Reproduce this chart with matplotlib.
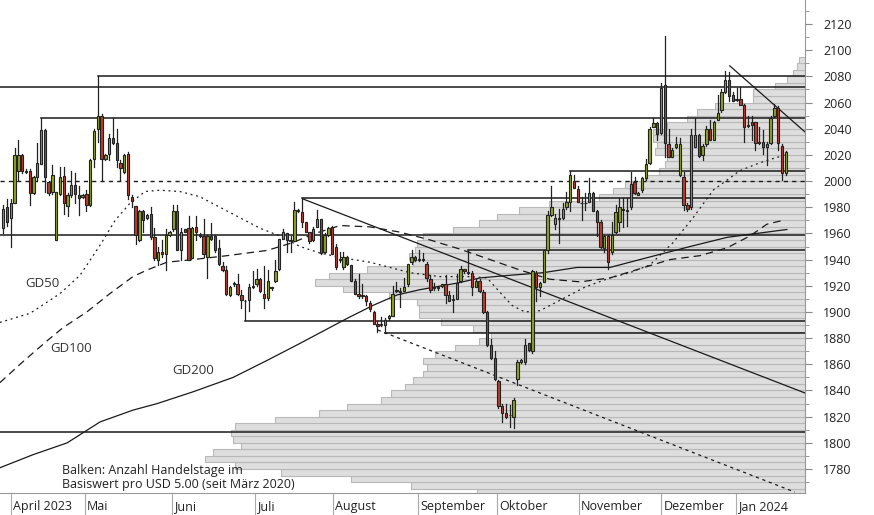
import numpy as np
import matplotlib
matplotlib.use("Agg")
import matplotlib.pyplot as plt
from matplotlib.patches import Rectangle
from matplotlib.ticker import MultipleLocator

plt.rcParams['font.family'] = ['Open Sans', 'DejaVu Sans']

# daily candles: open, close, high, low (USD)
opens = [1964, 1980, 1972, 1983, 2008, 2020, 2008, 2008, 1991, 2003, 2013, 2039, 1999, 1992, 1955, 1990, 2004, 1981, 1989, 1997,
         1989, 1988, 1990, 1982, 2017, 2040, 2050, 2017, 2021, 2033, 2029, 2014, 2007, 2021, 1988, 1981, 1955, 1977, 1972, 1975,
         1957, 1940, 1946, 1944, 1959, 1963, 1977, 1947, 1963, 1964, 1941, 1965, 1959, 1958, 1942, 1958, 1958, 1949, 1935, 1932,
         1913, 1921, 1921, 1913, 1908, 1909, 1919, 1921, 1925, 1914, 1911, 1919, 1924, 1933, 1956, 1960, 1954, 1954, 1977, 1976,
         1969, 1961, 1955, 1965, 1971, 1946, 1959, 1965, 1950, 1940, 1934, 1942, 1936, 1924, 1914, 1912, 1912, 1907, 1900, 1891,
         1890, 1890, 1895, 1897, 1916, 1916, 1916, 1921, 1938, 1942, 1940, 1940, 1937, 1925, 1918, 1919, 1920, 1921, 1913, 1909,
         1910, 1924, 1933, 1930, 1930, 1919, 1924, 1915, 1900, 1875, 1865, 1847, 1828, 1823, 1821, 1820, 1849, 1862, 1862, 1876,
         1870, 1930, 1919, 1923, 1947, 1974, 1967, 1971, 1972, 1980, 1984, 2000, 1994, 1983, 1983, 1984, 1991, 1977, 1969, 1949,
         1958, 1946, 1961, 1969, 1978, 1978, 1980, 1999, 1989, 1993, 2002, 2014, 2041, 2044, 2037, 2073, 2028, 2018, 2026, 2005,
         2003, 1982, 1980, 2026, 2035, 2020, 2028, 2040, 2031, 2047, 2054, 2068, 2077, 2066, 2062, 2063, 2058, 2042, 2045, 2045,
         2030, 2030, 2026, 2029, 2050, 2056, 2027, 2006]
closes = [1979, 1969, 1983, 2020, 2020, 2008, 2007, 1991, 2003, 2014, 2039, 2003, 1991, 2005, 1992, 2003, 1983, 1989, 1997, 1990,
          1987, 1989, 1982, 2016, 2038, 2050, 2017, 2020, 2033, 2029, 2016, 2010, 2020, 1989, 1985, 1959, 1977, 1970, 1974, 1957,
          1941, 1946, 1944, 1959, 1961, 1977, 1947, 1961, 1961, 1940, 1964, 1961, 1958, 1944, 1958, 1956, 1947, 1937, 1932, 1914,
          1919, 1922, 1914, 1909, 1908, 1919, 1920, 1925, 1916, 1911, 1924, 1918, 1931, 1956, 1961, 1955, 1954, 1978, 1978, 1969,
          1961, 1954, 1963, 1971, 1945, 1959, 1964, 1944, 1934, 1940, 1942, 1937, 1924, 1914, 1912, 1912, 1908, 1902, 1891, 1889,
          1890, 1894, 1897, 1914, 1916, 1915, 1919, 1937, 1942, 1940, 1940, 1940, 1926, 1917, 1919, 1918, 1921, 1913, 1908, 1909,
          1922, 1933, 1931, 1930, 1919, 1924, 1916, 1900, 1875, 1865, 1849, 1828, 1823, 1820, 1821, 1833, 1862, 1863, 1875, 1871,
          1931, 1919, 1922, 1947, 1974, 1980, 1972, 1972, 1979, 1984, 2005, 1995, 1984, 1983, 1983, 1991, 1977, 1969, 1950, 1958,
          1938, 1959, 1976, 1980, 1978, 1977, 1998, 1991, 1991, 2002, 2013, 2040, 2044, 2036, 2071, 2029, 2018, 2024, 2028, 2028,
          1982, 1979, 2035, 2035, 2019, 2027, 2040, 2031, 2045, 2052, 2068, 2077, 2065, 2061, 2063, 2058, 2041, 2042, 2043, 2029,
          2029, 2026, 2028, 2048, 2056, 2029, 2006, 2022]
highs = [1982, 1986, 1986, 2025, 2031, 2021, 2009, 2009, 2004, 2029, 2048, 2040, 2000, 2012, 1992, 2011, 2011, 1991, 2008, 2006,
         1996, 1990, 1993, 2017, 2040, 2080, 2051, 2021, 2036, 2048, 2040, 2016, 2021, 2022, 1989, 1981, 1978, 1978, 1975, 1980,
         1964, 1950, 1955, 1963, 1962, 1982, 1982, 1964, 1963, 1973, 1965, 1973, 1960, 1971, 1959, 1968, 1959, 1955, 1938, 1935,
         1920, 1923, 1929, 1917, 1909, 1921, 1931, 1933, 1926, 1935, 1932, 1919, 1940, 1956, 1963, 1960, 1958, 1984, 1979, 1987,
         1969, 1961, 1965, 1978, 1971, 1960, 1965, 1966, 1952, 1946, 1946, 1943, 1936, 1925, 1929, 1921, 1913, 1908, 1901, 1893,
         1896, 1895, 1898, 1920, 1923, 1918, 1926, 1937, 1947, 1943, 1947, 1945, 1938, 1928, 1922, 1920, 1921, 1928, 1916, 1913,
         1929, 1935, 1933, 1947, 1931, 1925, 1925, 1917, 1901, 1879, 1870, 1848, 1830, 1830, 1829, 1834, 1863, 1864, 1879, 1876,
         1932, 1931, 1923, 1947, 1977, 1996, 1975, 1979, 1983, 1992, 2008, 2005, 1996, 1988, 1991, 2002, 1992, 1978, 1970, 1959,
         1959, 1969, 1982, 1987, 1987, 1987, 2007, 2003, 1992, 2003, 2017, 2041, 2048, 2045, 2075, 2111, 2040, 2025, 2034, 2033,
         2007, 1983, 2040, 2048, 2036, 2028, 2042, 2047, 2046, 2066, 2070, 2084, 2083, 2068, 2071, 2072, 2059, 2050, 2050, 2045,
         2041, 2039, 2030, 2050, 2059, 2057, 2028, 2023]
lows = [1960, 1966, 1950, 1983, 2001, 2006, 2006, 1982, 1990, 2001, 2013, 1992, 1989, 1990, 1955, 1989, 1975, 1973, 1988, 1983,
        1974, 1987, 1977, 1981, 2011, 2030, 2000, 2016, 2016, 2028, 2011, 2001, 2006, 1986, 1980, 1952, 1954, 1961, 1971, 1956,
        1940, 1936, 1942, 1932, 1958, 1962, 1947, 1940, 1961, 1940, 1941, 1955, 1957, 1942, 1926, 1955, 1946, 1936, 1931, 1913,
        1912, 1920, 1913, 1903, 1894, 1901, 1918, 1920, 1915, 1903, 1909, 1917, 1923, 1932, 1956, 1946, 1946, 1954, 1976, 1965,
        1961, 1953, 1954, 1965, 1944, 1945, 1958, 1944, 1933, 1938, 1933, 1936, 1924, 1914, 1911, 1911, 1905, 1901, 1891, 1885,
        1889, 1884, 1894, 1897, 1915, 1904, 1916, 1920, 1937, 1939, 1939, 1939, 1924, 1915, 1917, 1917, 1919, 1907, 1908, 1900,
        1910, 1923, 1930, 1929, 1913, 1919, 1915, 1899, 1874, 1864, 1848, 1827, 1816, 1819, 1812, 1811, 1844, 1861, 1860, 1870,
        1869, 1908, 1912, 1923, 1945, 1973, 1963, 1953, 1971, 1979, 1977, 1995, 1984, 1970, 1978, 1984, 1977, 1958, 1949, 1946,
        1933, 1944, 1960, 1962, 1965, 1966, 1979, 1990, 1989, 1992, 2001, 2013, 2041, 2031, 2036, 2018, 2018, 2018, 2025, 2004,
        1978, 1977, 1979, 2026, 2018, 2016, 2027, 2031, 2031, 2047, 2053, 2067, 2061, 2061, 2061, 2058, 2030, 2041, 2031, 2024,
        2028, 2021, 2012, 2028, 2049, 2024, 2001, 2005]

month_pos = [2.0, 21.6, 44.6, 66.6, 87.2, 109.8, 130.6, 152.3, 174.0, 193.8]
month_labels = ["April 2023", "Mai", "Juni", "Juli", "August", "September", "Oktober", "November", "Dezember", "Jan 2024"]

# moving averages, read as (day index, price)
gd50_x = [-0.9, 7.1, 15, 20.3, 25.6, 29.6, 33.5, 37.5, 41.5, 46.7, 52, 57.3, 62.6, 67.9, 73.2, 78.5, 83.8, 90.4, 97, 102.3,
          107.6, 115.5, 123.5, 128, 131.4, 134.6, 138, 142, 147.3, 153.9, 160.5, 165.8, 171.1, 177.2, 182.5, 187.8, 194.9, 200.2, 206.8]
gd50_y = [1892, 1899, 1914, 1928, 1951, 1970, 1983, 1992, 1993, 1992, 1988, 1980, 1972, 1964, 1958, 1950, 1945, 1941, 1938, 1934,
          1930, 1927, 1927, 1926, 1915, 1905, 1900, 1901, 1909, 1919, 1926, 1930, 1936, 1953, 1972, 1993, 2008, 2014, 2020]
gd100_x = [-0.9, 5.2, 11.6, 15.8, 22.1, 28.2, 34.3, 38, 43.3, 50.2, 59.2, 69.8, 76.6, 82.5, 89.1, 97, 104.9, 112.9, 120.8, 128.8,
           136.7, 144.6, 152.6, 160.5, 168.4, 176.4, 184.3, 191.5, 197.5, 202, 206.3]
gd100_y = [1846, 1862, 1878, 1888, 1900, 1914, 1927, 1932, 1938, 1940, 1943, 1947, 1953, 1960, 1966, 1965, 1961, 1955, 1948, 1940,
           1932, 1925, 1923, 1926, 1933, 1940, 1943, 1949, 1958, 1967, 1970]
gd200_x = [-0.9, 7.9, 16.9, 25.6, 34.3, 40.7, 50.2, 60.8, 69.8, 78.5, 90.9, 97.8, 104.2, 110.2, 120, 126.1, 134, 142.8, 151.8,
           160.5, 168.4, 181.7, 191.5, 207.3]
gd200_y = [1781, 1791, 1800, 1816, 1825, 1830, 1839, 1850, 1863, 1876, 1895, 1905, 1913, 1917, 1922, 1926, 1928, 1930, 1934,
           1934, 1940, 1950, 1957, 1963]

# volume profile: trading days per USD 5 bin since March 2020
bins = list(range(1760, 2095, 5))
days = [164, 197, 227, 262, 285, 300, 296, 282, 286, 287, 285, 265, 243, 229, 212, 207, 200, 196, 191, 189,
        191, 185, 175, 163, 157, 166, 182, 193, 193, 194, 208, 231, 245, 238, 219, 196, 198, 195, 194, 191,
        176, 163, 154, 143, 128, 103, 96, 90, 80, 73, 70, 69, 75, 74, 76, 76, 69, 59, 54, 45,
        26, 26, 15, 9, 6, 4, 3]

# support / resistance: (level, start index or None for full width)
levels = [(2080, 25), (2072, None), (2048, 10), (2008, 150), (1987, 79), (1959, None), (1947, 123),
          (1893, 64), (1884, 101), (1808, None)]
trend_solid = [((79.3, 1986.3), (212.1, 1838.1)), ((192.2, 2088), (212.1, 2037.5))]
trend_dotted = [((99.1, 1886.2), (209.4, 1762.4))]

W, H = 874, 515
fig = plt.figure(figsize=(W / 100, H / 100), dpi=100)
ax = fig.add_axes([0, 22 / H, 805 / W, 493 / H])
ax2 = ax.twiny()
ax.set_zorder(2)
ax.patch.set_visible(False)

# profile bars grow from the right edge
ax2.barh([b + 2.5 for b in bins], days, height=5, color="#dedede", edgecolor="#b8b8b8", linewidth=0.8)
ax2.set_xlim(402.5, 0)
ax2.set_xticks([])
for s in ax2.spines.values():
    s.set_visible(False)

xmin, xmax = -0.87, 212.1
for lvl, start in levels:
    x0 = xmin if start is None else start
    ax.plot([x0, xmax], [lvl, lvl], color="#1a1a1a", lw=1.1, zorder=3)
ax.axhline(2000, color="#1a1a1a", lw=1, ls=(0, (3, 3)), zorder=3)
for (a, b) in trend_solid:
    ax.plot([a[0], b[0]], [a[1], b[1]], color="#1a1a1a", lw=0.9, zorder=3)
for (a, b) in trend_dotted:
    ax.plot([a[0], b[0]], [a[1], b[1]], color="#1a1a1a", lw=0.9, ls=(0, (2.5, 3)), zorder=3)

ax.plot(gd50_x, gd50_y, color="#1a1a1a", lw=0.9, ls=(0, (1.5, 3)), zorder=3)
ax.plot(gd100_x, gd100_y, color="#1a1a1a", lw=0.9, ls=(0, (6, 4)), zorder=3)
ax.plot(gd200_x, gd200_y, color="#1a1a1a", lw=0.9, zorder=3)

bw = 0.62
for i, (o, c, h, l) in enumerate(zip(opens, closes, highs, lows)):
    ax.plot([i, i], [l, h], color="#222222", lw=0.9, zorder=4)
    col = "#8fa31e" if c >= o else "#c0392b"
    lo, hi = min(o, c), max(o, c)
    ax.add_patch(Rectangle((i - bw / 2, lo), bw, max(hi - lo, 0.6), facecolor=col,
                           edgecolor="#222222", lw=0.8, zorder=5))

ax.set_xlim(xmin, xmax)
ax.set_ylim(1761.7, 2138.3)
ax2.set_ylim(1761.7, 2138.3)

ax.yaxis.tick_right()
ax.set_yticks(range(1780, 2121, 20))
ax.yaxis.set_minor_locator(MultipleLocator(10))
ax.tick_params(axis="y", which="major", length=5, color="#888888", labelsize=9, pad=8, labelcolor="#222222")
ax.tick_params(axis="y", which="minor", length=3, color="#888888")
ax.set_xticks(month_pos)
ax.set_xticklabels([])
ax.tick_params(axis="x", length=16, color="#aaaaaa", direction="out")
for p, lab in zip(month_pos, month_labels):
    ax.text(p + 0.6, -0.028, lab, transform=ax.get_xaxis_transform(), ha="left", va="center",
            fontsize=9, color="#222222")

for k in ["top", "left"]:
    ax.spines[k].set_visible(False)
ax.spines["right"].set_color("#999999")
ax.spines["bottom"].set_color("#999999")

ax.text(5.8, 1922, "GD50", fontsize=9.5, color="#333333", va="center", zorder=6)
ax.text(12.3, 1872, "GD100", fontsize=9.5, color="#333333", va="center", zorder=6)
ax.text(44.7, 1855.5, "GD200", fontsize=9.5, color="#333333", va="center", zorder=6)
ax.text(15.5, 1763, "Balken: Anzahl Handelstage im\nBasiswert pro USD 5.00 (seit März 2020)",
        fontsize=9, color="#222222", linespacing=1.1, va="bottom", zorder=6)

fig.savefig("out.png", dpi=100)
